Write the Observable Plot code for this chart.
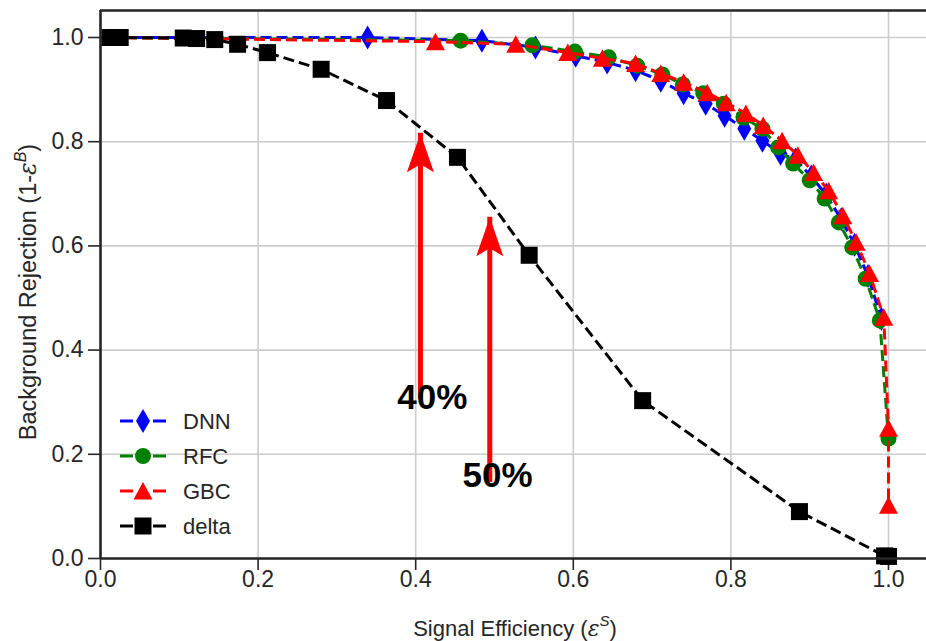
<!DOCTYPE html>
<html>
<head>
<meta charset="utf-8">
<script src="https://cdn.jsdelivr.net/npm/d3@7"></script>
<script src="https://cdn.jsdelivr.net/npm/@observablehq/plot@0.6"></script>
<style>
  html, body { margin: 0; padding: 0; background: #fff; }
  #chart { position: relative; width: 926px; height: 641px; overflow: hidden; }
</style>
</head>
<body>
<div id="chart"></div>
<script>
// ---- data ----
const seriesNames = ["DNN", "RFC", "GBC", "delta"];
const seriesColors = ["#0000ff", "#008000", "#ff0000", "#000000"];

const dnnX = [0.0, 0.339, 0.484, 0.552, 0.603, 0.643, 0.679, 0.711, 0.740, 0.768, 0.792, 0.817, 0.840, 0.863, 0.882, 0.902, 0.921, 0.940, 0.957, 0.974, 0.991];
const dnnY = [1.0, 1.0, 0.994, 0.981, 0.965, 0.952, 0.937, 0.917, 0.893, 0.873, 0.850, 0.825, 0.802, 0.777, 0.766, 0.733, 0.698, 0.651, 0.602, 0.542, 0.460];

const rfcX = [0.012, 0.457, 0.548, 0.602, 0.645, 0.681, 0.713, 0.739, 0.765, 0.791, 0.816, 0.840, 0.860, 0.879, 0.900, 0.919, 0.937, 0.954, 0.971, 0.989, 1.0];
const rfcY = [1.0, 0.994, 0.985, 0.973, 0.962, 0.946, 0.929, 0.910, 0.893, 0.873, 0.846, 0.825, 0.789, 0.758, 0.726, 0.691, 0.645, 0.597, 0.537, 0.457, 0.230];

const gbcX = [0.012, 0.425, 0.527, 0.593, 0.637, 0.679, 0.711, 0.740, 0.770, 0.794, 0.819, 0.841, 0.865, 0.885, 0.905, 0.924, 0.942, 0.959, 0.976, 0.994, 1.0, 1.0];
const gbcY = [1.0, 0.992, 0.987, 0.971, 0.960, 0.950, 0.931, 0.914, 0.894, 0.875, 0.854, 0.831, 0.802, 0.774, 0.741, 0.706, 0.658, 0.607, 0.547, 0.463, 0.250, 0.102];

const deltaX = [0.012, 0.025, 0.105, 0.122, 0.145, 0.174, 0.212, 0.280, 0.363, 0.453, 0.544, 0.688, 0.887, 0.995, 1.0];
const deltaY = [1.0, 1.0, 0.999, 0.998, 0.996, 0.987, 0.971, 0.939, 0.879, 0.770, 0.582, 0.303, 0.090, 0.005, 0.004];

const tickValues = [0.0, 0.2, 0.4, 0.6, 0.8, 1.0];

const arrowX = [0.406, 0.494];
const arrowBase = [0.355, 0.194];
const arrowTip = [0.816, 0.655];
const noteText = ["40%", "50%"];
const noteX = [0.421, 0.504];
const noteY = [0.309, 0.159];

// ---- build tables ----
const zip = (xs, ys) => xs.map((x, i) => ({x, y: ys[i]}));
const seriesData = [zip(dnnX, dnnY), zip(rfcX, rfcY), zip(gbcX, gbcY), zip(deltaX, deltaY)];
const arrows = arrowX.map((x, i) => ({x, y1: arrowBase[i], y2: arrowTip[i]}));
const notes = noteText.map((t, i) => ({t, x: noteX[i], y: noteY[i]}));

// ---- custom marker symbols (fixed pixel sizes) ----
const symDiamond = {draw(c) { c.moveTo(0, -12); c.lineTo(7, 0); c.lineTo(0, 12); c.lineTo(-7, 0); c.closePath(); }};
const symCircle = {draw(c) { c.moveTo(8, 0); c.arc(0, 0, 8, 0, 2 * Math.PI); c.closePath(); }};
const symTriangle = {draw(c) { c.moveTo(0, -9); c.lineTo(9.5, 8.5); c.lineTo(-9.5, 8.5); c.closePath(); }};
const symSquare = {draw(c) { c.rect(-8.5, -8.5, 17, 17); }};
const symbols = [symDiamond, symCircle, symTriangle, symSquare];
const arrowHead = {draw(c) { c.moveTo(0, 0); c.lineTo(13.5, 39); c.lineTo(0, 31); c.lineTo(-13.5, 39); c.closePath(); }};

const W = 926, H = 641;
const mL = 100, mT = 10, mB = 83, mR = 0;
const xMax = (W - mL - mR) / 788;   // px per unit ≈ 788
const yMax = (H - mT - mB) / 521;   // px per unit ≈ 521
const axisColor = "#262626";
const dash = "11,5";

const marks = [
  Plot.gridX(tickValues, {stroke: "#cccccc", strokeOpacity: 1, strokeWidth: 1.6}),
  Plot.gridY(tickValues, {stroke: "#cccccc", strokeOpacity: 1, strokeWidth: 1.6}),
  Plot.axisX(tickValues, {tickSize: 12, tickPadding: 0, fontSize: 23, tickFormat: d3.format(".1f"), label: null, stroke: axisColor, fill: axisColor, strokeWidth: 1.6}),
  Plot.axisY(tickValues, {tickSize: 12, tickPadding: 5, fontSize: 23, tickFormat: d3.format(".1f"), label: null, stroke: axisColor, fill: axisColor, strokeWidth: 1.6}),
];

seriesData.forEach((d, i) => {
  marks.push(Plot.line(d, {x: "x", y: "y", stroke: seriesColors[i], strokeWidth: 3, strokeDasharray: dash, strokeLinecap: "butt", strokeLinejoin: "miter", curve: "linear"}));
  // the DNN marker at the very start is hidden behind the delta squares in the reference
  const pts = i === 0 ? d.slice(1) : d;
  marks.push(Plot.dot(pts, {x: "x", y: "y", symbol: symbols[i], fill: seriesColors[i], stroke: "none", r: 5}));
});

marks.push(
  Plot.ruleX(arrows, {x: "x", y1: "y1", y2: "y2", stroke: "#ff0000", strokeWidth: 5, insetTop: 25}),
  Plot.dot(arrows, {x: "x", y: "y2", symbol: arrowHead, fill: "#ff0000", stroke: "none", r: 5}),
  Plot.text(notes, {x: "x", y: "y", text: "t", fontSize: 35, fontWeight: "bold", fill: "#000", textAnchor: "middle", lineAnchor: "middle"}),
  Plot.ruleX([0], {stroke: axisColor, strokeWidth: 2.6}),
  Plot.ruleY([0], {stroke: axisColor, strokeWidth: 2.6}),
  Plot.ruleY([yMax], {stroke: axisColor, strokeWidth: 2.6})
);

const plot = Plot.plot({
  width: W, height: H,
  marginLeft: mL, marginTop: mT, marginBottom: mB, marginRight: mR,
  style: {fontFamily: "'Liberation Sans', Arial, sans-serif", background: "#fff", overflow: "visible"},
  x: {domain: [0, xMax]},
  y: {domain: [0, yMax]},
  marks
});
document.getElementById("chart").appendChild(plot);

// ---- axis titles with superscripts ----
const svg = d3.select(plot);
const ff = "'Liberation Sans', Arial, sans-serif";
const xl = svg.append("text").attr("x", mL + (W - mL) / 2 + 2).attr("y", 636)
  .attr("text-anchor", "middle").attr("font-family", ff).attr("font-size", 22).attr("fill", axisColor);
xl.append("tspan").text("Signal Efficiency (");
xl.append("tspan").attr("font-style", "italic").attr("font-family", "'DejaVu Serif', serif").text("ε");
xl.append("tspan").attr("font-style", "italic").attr("font-size", 15).attr("dy", -10).text("S");
xl.append("tspan").attr("dy", 10).text(")");

const yl = svg.append("text").attr("transform", "translate(36,292) rotate(-90)")
  .attr("text-anchor", "middle").attr("font-family", ff).attr("font-size", 23.5).attr("fill", axisColor);
yl.append("tspan").text("Background Rejection (1-");
yl.append("tspan").attr("font-style", "italic").attr("font-family", "'DejaVu Serif', serif").text("ε");
yl.append("tspan").attr("font-style", "italic").attr("font-size", 16).attr("dy", -10).text("B");
yl.append("tspan").attr("dy", 10).text(")");

// ---- legend ----
const lg = svg.append("g").attr("font-family", ff).attr("font-size", 22).attr("fill", axisColor).attr("text-anchor", "start");
const legendY0 = 421, legendStep = 35;
seriesNames.forEach((name, i) => {
  const y = legendY0 + i * legendStep;
  const col = seriesColors[i];
  lg.append("line").attr("x1", 120).attr("x2", 133).attr("y1", y).attr("y2", y).attr("stroke", col).attr("stroke-width", 3);
  lg.append("line").attr("x1", 153).attr("x2", 166).attr("y1", y).attr("y2", y).attr("stroke", col).attr("stroke-width", 3);
  lg.append("path").attr("transform", `translate(143,${y})`).attr("fill", col)
    .attr("d", (() => { const p = d3.path(); symbols[i].draw(p); return p.toString(); })());
  lg.append("text").attr("x", 183).attr("y", y).attr("dy", "0.36em").attr("text-anchor", "start").text(name);
});
</script>
</body>
</html>
